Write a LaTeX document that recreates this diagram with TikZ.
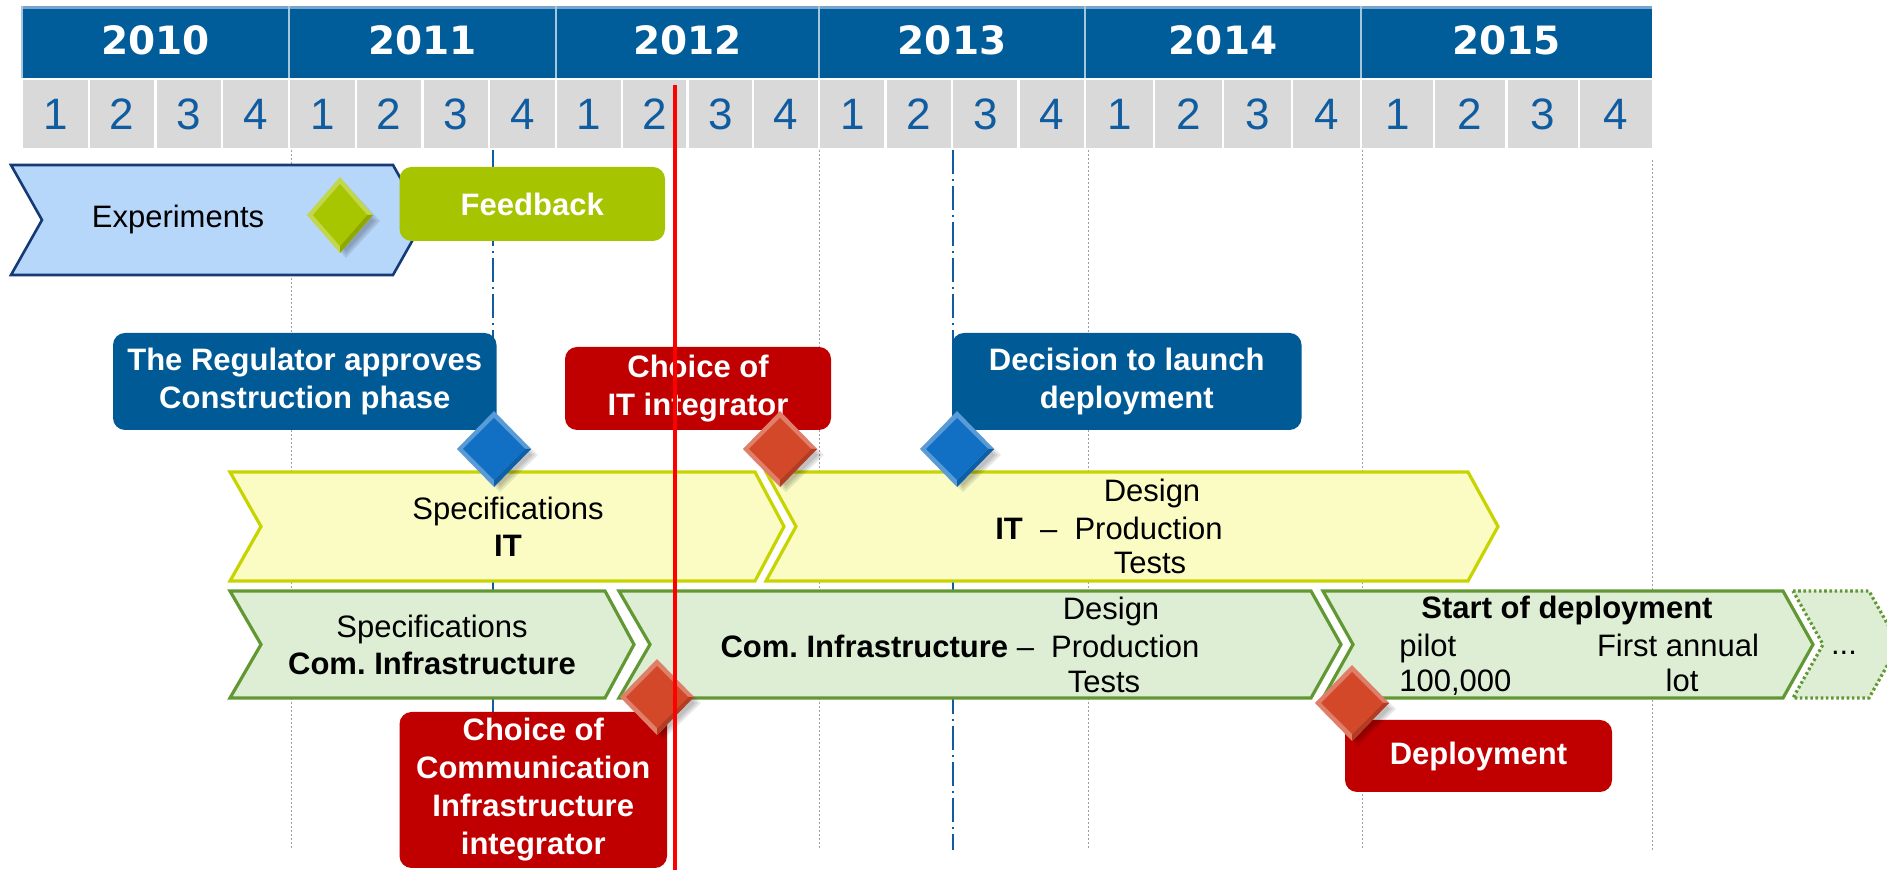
\documentclass[tikz,border=0pt]{standalone}
\usepackage{fontspec}
\setmainfont{Liberation Sans}
\newfontfamily\yearfont{DejaVu Sans}
\frenchspacing

\definecolor{hdrblue}{RGB}{0,93,153}
\definecolor{hdrtop}{RGB}{120,165,205}
\definecolor{qgray}{RGB}{217,217,217}
\definecolor{qblue}{RGB}{16,92,160}
\definecolor{expfill}{RGB}{182,214,250}
\definecolor{expline}{RGB}{22,58,118}
\definecolor{fbgreen}{RGB}{166,196,0}
\definecolor{itfill}{RGB}{250,252,196}
\definecolor{itline}{RGB}{200,212,0}
\definecolor{cifill}{RGB}{222,238,212}
\definecolor{ciline}{RGB}{98,152,52}
\definecolor{callblue}{RGB}{0,90,150}
\definecolor{callred}{RGB}{192,0,0}
\definecolor{msblue}{RGB}{18,112,196}
\definecolor{msred}{RGB}{210,72,40}
\definecolor{msgreen}{RGB}{168,198,0}

\tikzset{
  yearlbl/.style={text=white, font=\yearfont\bfseries\fontsize{19.5}{22}\selectfont},
  qlbl/.style={text=qblue, font=\fontsize{22}{26}\selectfont},
  phasetxt/.style={align=center, inner sep=0pt, font=\fontsize{15.5}{18.5}\selectfont},
  callout/.style={rounded corners=6pt, text=white, align=center, inner sep=0pt,
    font=\bfseries\fontsize{15.5}{19}\selectfont},
  expchev/.style={fill=expfill, draw=expline, line width=1.3pt},
  itchev/.style={fill=itfill, draw=itline, line width=1.6pt},
  cichev/.style={fill=cifill, draw=ciline, line width=1.6pt},
  nextchev/.style={fill=cifill, draw=ciline, line width=1.6pt, dash pattern=on 1.3pt off 1.3pt},
  gridline/.style={gray!75, line width=0.5pt, dash pattern=on 1pt off 1pt},
  keyline/.style={qblue, line width=0.7pt, dash pattern=on 12pt off 2.5pt on 1pt off 2.5pt},
  nowline/.style={red, line width=2.2pt}
}

% milestone diamond: x, y, half width, colour
\newcommand{\msdiamond}[4]{%
  \foreach \s in {0,3,6}
    \fill[black,opacity=0.09] (#1+6,#2-31+\s) -- (#1+#3+7-\s,#2+6) -- (#1+6,#2+43-\s) -- (#1-#3+5+\s,#2+6) -- cycle;
  \fill[#4!70!white] (#1,#2-38) -- (#1+#3,#2) -- (#1,#2+38) -- (#1-#3,#2) -- cycle;
  \fill[#4!85!black] (#1+#3,#2) -- (#1,#2+38) -- (#1,#2+31) -- (#1+#3-6,#2) -- cycle;
  \fill[#4] (#1,#2-31) -- (#1+#3-6,#2) -- (#1,#2+31) -- (#1-#3+6,#2) -- cycle;
}

\begin{document}
\begin{tikzpicture}[x=0.5pt,y=0.5pt,yscale=-1,xscale=1]
\useasboundingbox (0,0) rectangle (1887,870);

%Grid lines
\foreach \gx in {291,819,1088,1362} \draw[gridline] (\gx,150) -- (\gx,850);
\draw[gridline] (1652,160) -- (1652,850);
\foreach \gx in {493,953} \draw[keyline] (\gx,150) -- (\gx,850);

%Header: years and quarters
\fill[hdrblue] (22,6) rectangle (1652,78);
\fill[hdrtop] (22,6) rectangle (1652,9);
\fill[qgray] (22,80) rectangle (1652,148);
\foreach \xa/\xb/\yr in {22/289/2010,289/556/2011,556/819/2012,819/1085/2013,1085/1361/2014,1361/1652/2015}{
  \draw[white!65!hdrblue, line width=1pt] (\xa,6) -- (\xa,78);
  \node[yearlbl] (y\yr) at ({(\xa+\xb)/2},40) {\yr};
  \foreach \q in {1,...,4}{
    \draw[white, line width=1.2pt] ({\xa+(\q-1)*(\xb-\xa)/4},80) -- ++(0,68);
    \node[qlbl] (q\yr-\q) at ({\xa+(\q-0.5)*(\xb-\xa)/4},114) {\q};
  }
}

%Shape: Experiments
\draw[expchev] (11,165) -- (393,165) -- (424,220) -- (393,275) -- (11,275) -- (42,220) -- cycle;
%Shape: IT specifications
\draw[itchev] (230,472) -- (755,472) -- (784,526.5) -- (755,581) -- (230,581) -- (261,526.5) -- cycle;
%Shape: IT design
\draw[itchev] (766,472) -- (1468,472) -- (1498,526.5) -- (1468,581) -- (766,581) -- (796,526.5) -- cycle;
%Shape: Com. specifications
\draw[cichev] (230,591) -- (605,591) -- (634,644.5) -- (605,698) -- (230,698) -- (261,644.5) -- cycle;
%Shape: Com. design
\draw[cichev] (619,591) -- (1311,591) -- (1341,644.5) -- (1311,698) -- (619,698) -- (650,644.5) -- cycle;
%Shape: deployment
\draw[cichev] (1323,591) -- (1783,591) -- (1813,644.5) -- (1783,698) -- (1323,698) -- (1353,644.5) -- cycle;
%Shape: next phase
\draw[nextchev] (1793,591) -- (1869,591) -- (1899,644.5) -- (1869,698) -- (1793,698) -- (1823,644.5) -- cycle;

% Text Node
\node[phasetxt] (exptxt) at (178,219) {Experiments};
% Text Node
\node[phasetxt] (itspec) at (508,527) {Specifications\\\textbf{IT}};
% Text Node
\node[phasetxt] (itdesign) at (1152,493) {Design};
\node[phasetxt] (itprod) at (1109,528) {\textbf{IT}\ \ –\ \ Production};
\node[phasetxt] (ittests) at (1150,563) {Tests};
% Text Node
\node[phasetxt] (cispec) at (432,645) {Specifications\\\textbf{Com. Infrastructure}};
% Text Node
\node[phasetxt] (cidesign) at (1111,611) {Design};
\node[phasetxt] (ciprod) at (960,646) {\textbf{Com. Infrastructure} –\ \ Production};
\node[phasetxt] (citests) at (1104,682) {Tests};
% Text Node
\node[phasetxt] (deptitle) at (1567,610) {\textbf{Start of deployment}};
\node[phasetxt,anchor=base west] (pilot) at (1399,657) {pilot};
\node[phasetxt,anchor=base west] (pilotnum) at (1399,692) {100,000};
\node[phasetxt,anchor=base] (annual) at (1678,657) {First annual};
\node[phasetxt,anchor=base] (annuallot) at (1682,692) {lot};
\node[phasetxt,anchor=base] (more) at (1844,655) {...};

%Callouts
\node[callout, fill=fbgreen, minimum width=132.75pt, minimum height=37pt] (feedback) at (532.25,204) {Feedback};
\node[callout, fill=callblue, minimum width=191.75pt, minimum height=48.5pt] (regulator) at (304.75,381.5) {The Regulator approves\\Construction phase};
\node[callout, fill=callred, minimum width=133pt, minimum height=41.5pt] (itchoice) at (698,388.5) {Choice of\\IT integrator};
\node[callout, fill=callblue, minimum width=174.75pt, minimum height=48.5pt] (launch) at (1126.75,381.5) {Decision to launch\\deployment};
\node[callout, fill=callred, minimum width=133.75pt, minimum height=78pt] (cichoice) at (533.25,790) {Choice of\\Communication\\Infrastructure\\integrator};
\node[callout, fill=callred, minimum width=133.5pt, minimum height=36pt] (deploy) at (1478.5,756) {Deployment};

%Milestones
\msdiamond{340}{215}{33}{msgreen}
\msdiamond{494}{449}{37}{msblue}
\msdiamond{780}{449}{37}{msred}
\msdiamond{957}{449}{37}{msblue}
\msdiamond{657}{697}{37}{msred}
\msdiamond{1352}{703}{37}{msred}

%Today
\draw[nowline] (675,85) -- (675,870);

\end{tikzpicture}
\end{document}
